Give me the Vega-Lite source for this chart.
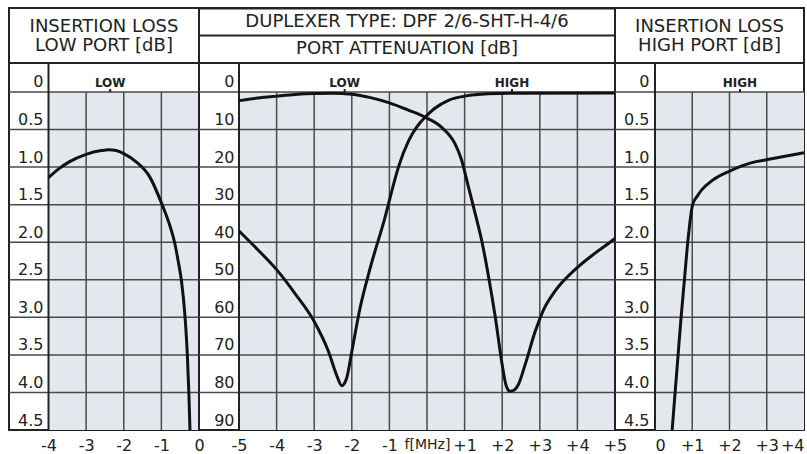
{
  "$schema": "https://vega.github.io/schema/vega-lite/v6.json",
  "padding": {"left": 7, "top": 7, "right": 5, "bottom": 0},
  "background": "white",
  "config": {
    "font": "DejaVu Sans",
    "view": {"stroke": "#222", "strokeWidth": 2},
    "axis": {"grid": false, "domain": false, "ticks": false, "labelColor": "#222", "labelFontSize": 16, "labelFont": "DejaVu Sans", "labelOverlap": false, "labelBound": false},
    "text": {"font": "DejaVu Sans", "color": "#222"}
  },
  "datasets": {
    "lowIL": [
      {"f": -4, "dB": 1.14}, {"f": -3.72, "dB": 1.02}, {"f": -3.45, "dB": 0.93}, {"f": -3.0, "dB": 0.83},
      {"f": -2.6, "dB": 0.78}, {"f": -2.4, "dB": 0.768}, {"f": -2.2, "dB": 0.78}, {"f": -2.0, "dB": 0.82}, {"f": -1.67, "dB": 0.93},
      {"f": -1.31, "dB": 1.13}, {"f": -0.98, "dB": 1.5}, {"f": -0.78, "dB": 1.77}, {"f": -0.65, "dB": 2.0},
      {"f": -0.55, "dB": 2.26}, {"f": -0.47, "dB": 2.5}, {"f": -0.37, "dB": 3.0}, {"f": -0.31, "dB": 3.5},
      {"f": -0.27, "dB": 4.0}, {"f": -0.24, "dB": 4.5}
    ],
    "highIL": [
      {"f": 0.46, "dB": 4.5}, {"f": 0.54, "dB": 4.0}, {"f": 0.62, "dB": 3.5}, {"f": 0.7, "dB": 3.0},
      {"f": 0.79, "dB": 2.5}, {"f": 0.88, "dB": 2.0}, {"f": 1.01, "dB": 1.5}, {"f": 1.13, "dB": 1.39},
      {"f": 1.26, "dB": 1.3}, {"f": 1.53, "dB": 1.18}, {"f": 2.02, "dB": 1.05}, {"f": 2.6, "dB": 0.94},
      {"f": 3.02, "dB": 0.9}, {"f": 4.0, "dB": 0.81}
    ],
    "att": [
      {"port": "low", "f": -5, "dB": 2.3}, {"port": "low", "f": -4.5, "dB": 1.6}, {"port": "low", "f": -4, "dB": 1.1},
      {"port": "low", "f": -3.5, "dB": 0.65}, {"port": "low", "f": -3, "dB": 0.4}, {"port": "low", "f": -2.5, "dB": 0.35},
      {"port": "low", "f": -2, "dB": 0.6}, {"port": "low", "f": -1.5, "dB": 1.5}, {"port": "low", "f": -1, "dB": 2.9},
      {"port": "low", "f": -0.5, "dB": 4.8}, {"port": "low", "f": -0.05, "dB": 6.7}, {"port": "low", "f": 0.39, "dB": 9.4},
      {"port": "low", "f": 0.74, "dB": 13.7}, {"port": "low", "f": 0.92, "dB": 18.1}, {"port": "low", "f": 1.1, "dB": 25.2},
      {"port": "low", "f": 1.28, "dB": 32.3}, {"port": "low", "f": 1.46, "dB": 39.8}, {"port": "low", "f": 1.64, "dB": 49.3},
      {"port": "low", "f": 1.82, "dB": 60.2}, {"port": "low", "f": 1.99, "dB": 72.0}, {"port": "low", "f": 2.1, "dB": 78.0},
      {"port": "low", "f": 2.21, "dB": 79.7}, {"port": "low", "f": 2.33, "dB": 79.3}, {"port": "low", "f": 2.43, "dB": 77.9},
      {"port": "low", "f": 2.61, "dB": 72.6}, {"port": "low", "f": 2.87, "dB": 64.0}, {"port": "low", "f": 3.1, "dB": 58.0},
      {"port": "low", "f": 3.4, "dB": 53.1}, {"port": "low", "f": 3.98, "dB": 46.9}, {"port": "low", "f": 4.47, "dB": 42.9},
      {"port": "low", "f": 4.87, "dB": 40.0}, {"port": "low", "f": 5.0, "dB": 39.0},
      {"port": "high", "f": -5, "dB": 37.0}, {"port": "high", "f": -4.5, "dB": 42.0},
      {"port": "high", "f": -4, "dB": 47.3}, {"port": "high", "f": -3.5, "dB": 53.8}, {"port": "high", "f": -3, "dB": 61.1},
      {"port": "high", "f": -2.62, "dB": 69.1}, {"port": "high", "f": -2.4, "dB": 75.5}, {"port": "high", "f": -2.27, "dB": 78.2},
      {"port": "high", "f": -2.14, "dB": 76.3}, {"port": "high", "f": -2.0, "dB": 69.1}, {"port": "high", "f": -1.78, "dB": 57.5},
      {"port": "high", "f": -1.56, "dB": 48.7}, {"port": "high", "f": -1.43, "dB": 44.0}, {"port": "high", "f": -1.12, "dB": 33.5},
      {"port": "high", "f": -0.94, "dB": 26.5}, {"port": "high", "f": -0.76, "dB": 20.0}, {"port": "high", "f": -0.49, "dB": 13.0},
      {"port": "high", "f": -0.27, "dB": 9.3}, {"port": "high", "f": -0.05, "dB": 6.7}, {"port": "high", "f": 0.2, "dB": 4.4},
      {"port": "high", "f": 0.57, "dB": 2.2}, {"port": "high", "f": 1.01, "dB": 1.1}, {"port": "high", "f": 1.63, "dB": 0.5},
      {"port": "high", "f": 2.25, "dB": 0.35}, {"port": "high", "f": 5.0, "dB": 0.3}
    ],
    "gridIL": [{"v": 0}, {"v": 0.5}, {"v": 1.0}, {"v": 1.5}, {"v": 2.0}, {"v": 2.5}, {"v": 3.0}, {"v": 3.5}, {"v": 4.0}],
    "gridAtt": [{"v": 0}, {"v": 10}, {"v": 20}, {"v": 30}, {"v": 40}, {"v": 50}, {"v": 60}, {"v": 70}, {"v": 80}],
    "vL": [{"f": -3}, {"f": -2}, {"f": -1}],
    "vM": [{"f": -4}, {"f": -3}, {"f": -2}, {"f": -1}, {"f": 0}, {"f": 1}, {"f": 2}, {"f": 3}, {"f": 4}],
    "vR": [{"f": 1}, {"f": 2}, {"f": 3}],
    "bandL": [{"f": -2.36, "band": "LOW"}],
    "bandM": [{"f": -2.19, "band": "LOW"}, {"f": 2.26, "band": "HIGH"}],
    "bandR": [{"f": 2.28, "band": "HIGH"}],
    "headL": [{"row": "1", "t": "INSERTION LOSS\nLOW PORT [dB]"}],
    "headM": [{"row": "1", "t": "DUPLEXER TYPE: DPF 2/6-SHT-H-4/6"}, {"row": "2", "t": "PORT ATTENUATION [dB]"}],
    "headR": [{"row": "1", "t": "INSERTION LOSS\nHIGH PORT [dB]"}]
  },
  "columns": 3,
  "spacing": 0,
  "bounds": "flush",
  "concat": [
    {
      "width": 190, "height": 55,
      "data": {"name": "headL"},
      "mark": {"type": "text", "fontSize": 18, "lineBreak": "\n", "lineHeight": 19, "baseline": "middle", "dy": -9},
      "encoding": {
        "y": {"field": "row", "type": "nominal", "scale": {"type": "band", "paddingInner": 0, "paddingOuter": 0}, "axis": null},
        "text": {"field": "t"}
      }
    },
    {
      "width": 416, "height": 55,
      "data": {"name": "headM"},
      "mark": {"type": "text", "fontSize": 18, "baseline": "middle"},
      "encoding": {
        "y": {"field": "row", "type": "nominal", "scale": {"type": "band", "paddingInner": 0, "paddingOuter": 0},
              "axis": {"grid": true, "bandPosition": 0, "labels": false, "ticks": false, "domain": false, "title": null, "gridColor": "#222", "gridWidth": 2}},
        "text": {"field": "t"}
      }
    },
    {
      "width": 189, "height": 55,
      "data": {"name": "headR"},
      "mark": {"type": "text", "fontSize": 18, "lineBreak": "\n", "lineHeight": 19, "baseline": "middle", "dy": -9},
      "encoding": {
        "y": {"field": "row", "type": "nominal", "scale": {"type": "band", "paddingInner": 0, "paddingOuter": 0}, "axis": null},
        "text": {"field": "t"}
      }
    },
    {
      "width": 190, "height": 367,
      "layer": [
        {
          "data": {"values": [{}]},
          "mark": {"type": "rect", "color": "#e4e8ee"},
          "encoding": {
            "x": {"datum": -4, "type": "quantitative", "scale": {"domain": [-5.05, 0], "nice": false, "zero": false}},
            "x2": {"datum": 0},
            "y": {"datum": 0, "type": "quantitative", "scale": {"domain": [-0.386, 4.5], "nice": false, "zero": false, "reverse": true}},
            "y2": {"datum": 4.5}
          }
        },
        {
          "data": {"name": "gridIL"},
          "mark": {"type": "rule", "color": "#4a4a4a", "strokeWidth": 1.5},
          "encoding": {"y": {"field": "v", "type": "quantitative", "scale": {"domain": [-0.386, 4.5], "nice": false, "zero": false, "reverse": true}}}
        },
        {
          "data": {"name": "vL"},
          "mark": {"type": "rule", "color": "#4a4a4a", "strokeWidth": 1.5},
          "encoding": {
            "x": {"field": "f", "type": "quantitative", "scale": {"domain": [-5.05, 0], "nice": false, "zero": false}},
            "y": {"datum": 0, "type": "quantitative", "scale": {"domain": [-0.386, 4.5], "nice": false, "zero": false, "reverse": true}},
            "y2": {"datum": 4.5}
          }
        },
        {
          "data": {"values": [{}]},
          "mark": {"type": "rule", "color": "#222", "strokeWidth": 2},
          "encoding": {"x": {"datum": -4, "type": "quantitative", "scale": {"domain": [-5.05, 0], "nice": false, "zero": false}}}
        },
        {
          "data": {"name": "bandL"},
          "mark": {"type": "text", "fontSize": 12, "fontWeight": "bold", "baseline": "alphabetic", "dy": -5},
          "encoding": {
            "x": {"field": "f", "type": "quantitative", "scale": {"domain": [-5.05, 0], "nice": false, "zero": false}},
            "y": {"datum": 0, "type": "quantitative", "scale": {"domain": [-0.386, 4.5], "nice": false, "zero": false, "reverse": true}},
            "text": {"field": "band"}
          }
        },
        {
          "data": {"name": "bandL"},
          "mark": {"type": "rule", "color": "#222", "strokeWidth": 2},
          "encoding": {
            "x": {"field": "f", "type": "quantitative", "scale": {"domain": [-5.05, 0], "nice": false, "zero": false}},
            "y": {"datum": 0, "type": "quantitative", "scale": {"domain": [-0.386, 4.5], "nice": false, "zero": false, "reverse": true}},
            "y2": {"datum": -0.04}
          }
        },
        {
          "data": {"name": "lowIL"},
          "mark": {"type": "line", "color": "#111", "strokeWidth": 3, "interpolate": "monotone"},
          "encoding": {
            "x": {"field": "f", "type": "quantitative", "scale": {"domain": [-5.05, 0], "nice": false, "zero": false},
                  "axis": {"orient": "bottom", "values": [-4, -3, -2, -1, 0], "labelFlush": false, "labelPadding": 7, "title": null, "grid": false,
                           "labelExpr": "datum.value == 0 ? '0' : (datum.value > 0 ? '+' : '-') + abs(datum.value)"}},
            "y": {"field": "dB", "type": "quantitative", "scale": {"domain": [-0.386, 4.5], "nice": false, "zero": false, "reverse": true},
                  "axis": {"orient": "left", "values": [0, 0.5, 1, 1.5, 2, 2.5, 3, 3.5, 4, 4.5], "labelAlign": "right", "labelBaseline": "alphabetic",
                           "labelOffset": -5, "labelPadding": -34, "title": null, "grid": false,
                           "labelExpr": "datum.value == 0 ? '0' : format(datum.value, '.1f')"}}
          }
        }
      ]
    },
    {
      "width": 416, "height": 367,
      "layer": [
        {
          "data": {"values": [{}]},
          "mark": {"type": "rect", "color": "#e4e8ee"},
          "encoding": {
            "x": {"datum": -5, "type": "quantitative", "scale": {"domain": [-6.064, 5], "nice": false, "zero": false}},
            "x2": {"datum": 5},
            "y": {"datum": 0, "type": "quantitative", "scale": {"domain": [-7.72, 90], "nice": false, "zero": false, "reverse": true}},
            "y2": {"datum": 90}
          }
        },
        {
          "data": {"name": "gridAtt"},
          "mark": {"type": "rule", "color": "#4a4a4a", "strokeWidth": 1.5},
          "encoding": {"y": {"field": "v", "type": "quantitative", "scale": {"domain": [-7.72, 90], "nice": false, "zero": false, "reverse": true}}}
        },
        {
          "data": {"name": "vM"},
          "mark": {"type": "rule", "color": "#4a4a4a", "strokeWidth": 1.5},
          "encoding": {
            "x": {"field": "f", "type": "quantitative", "scale": {"domain": [-6.064, 5], "nice": false, "zero": false}},
            "y": {"datum": 0, "type": "quantitative", "scale": {"domain": [-7.72, 90], "nice": false, "zero": false, "reverse": true}},
            "y2": {"datum": 90}
          }
        },
        {
          "data": {"values": [{}]},
          "mark": {"type": "rule", "color": "#222", "strokeWidth": 2},
          "encoding": {"x": {"datum": -5, "type": "quantitative", "scale": {"domain": [-6.064, 5], "nice": false, "zero": false}}}
        },
        {
          "data": {"name": "bandM"},
          "mark": {"type": "text", "fontSize": 12, "fontWeight": "bold", "baseline": "alphabetic", "dy": -5},
          "encoding": {
            "x": {"field": "f", "type": "quantitative", "scale": {"domain": [-6.064, 5], "nice": false, "zero": false}},
            "y": {"datum": 0, "type": "quantitative", "scale": {"domain": [-7.72, 90], "nice": false, "zero": false, "reverse": true}},
            "text": {"field": "band"}
          }
        },
        {
          "data": {"name": "bandM"},
          "mark": {"type": "rule", "color": "#222", "strokeWidth": 2},
          "encoding": {
            "x": {"field": "f", "type": "quantitative", "scale": {"domain": [-6.064, 5], "nice": false, "zero": false}},
            "y": {"datum": 0, "type": "quantitative", "scale": {"domain": [-7.72, 90], "nice": false, "zero": false, "reverse": true}},
            "y2": {"datum": -0.8}
          }
        },
        {
          "data": {"name": "att"},
          "mark": {"type": "line", "color": "#111", "strokeWidth": 3, "interpolate": "monotone"},
          "encoding": {
            "detail": {"field": "port"},
            "x": {"field": "f", "type": "quantitative", "scale": {"domain": [-6.064, 5], "nice": false, "zero": false},
                  "axis": {"orient": "bottom", "values": [-5, -4, -3, -2, -1, 0, 1, 2, 3, 4, 5], "labelFlush": false, "labelPadding": 7, "title": null, "grid": false,
                           "labelFontSize": {"condition": {"test": "datum.value == 0", "value": 14}, "value": 16},
                           "labelExpr": "datum.value == 0 ? 'f[MHz]' : (datum.value > 0 ? '+' : '-') + abs(datum.value)"}},
            "y": {"field": "dB", "type": "quantitative", "scale": {"domain": [-7.72, 90], "nice": false, "zero": false, "reverse": true},
                  "axis": {"orient": "left", "values": [0, 10, 20, 30, 40, 50, 60, 70, 80, 90], "labelAlign": "right", "labelBaseline": "alphabetic",
                           "labelOffset": -5, "labelPadding": -35, "title": null, "grid": false}}
          }
        }
      ]
    },
    {
      "width": 189, "height": 367,
      "layer": [
        {
          "data": {"values": [{}]},
          "mark": {"type": "rect", "color": "#e4e8ee"},
          "encoding": {
            "x": {"datum": 0, "type": "quantitative", "scale": {"domain": [-1.074, 4], "nice": false, "zero": false}},
            "x2": {"datum": 4},
            "y": {"datum": 0, "type": "quantitative", "scale": {"domain": [-0.386, 4.5], "nice": false, "zero": false, "reverse": true}},
            "y2": {"datum": 4.5}
          }
        },
        {
          "data": {"name": "gridIL"},
          "mark": {"type": "rule", "color": "#4a4a4a", "strokeWidth": 1.5},
          "encoding": {"y": {"field": "v", "type": "quantitative", "scale": {"domain": [-0.386, 4.5], "nice": false, "zero": false, "reverse": true}}}
        },
        {
          "data": {"name": "vR"},
          "mark": {"type": "rule", "color": "#4a4a4a", "strokeWidth": 1.5},
          "encoding": {
            "x": {"field": "f", "type": "quantitative", "scale": {"domain": [-1.074, 4], "nice": false, "zero": false}},
            "y": {"datum": 0, "type": "quantitative", "scale": {"domain": [-0.386, 4.5], "nice": false, "zero": false, "reverse": true}},
            "y2": {"datum": 4.5}
          }
        },
        {
          "data": {"values": [{}]},
          "mark": {"type": "rule", "color": "#222", "strokeWidth": 2},
          "encoding": {"x": {"datum": 0, "type": "quantitative", "scale": {"domain": [-1.074, 4], "nice": false, "zero": false}}}
        },
        {
          "data": {"name": "bandR"},
          "mark": {"type": "text", "fontSize": 12, "fontWeight": "bold", "baseline": "alphabetic", "dy": -5},
          "encoding": {
            "x": {"field": "f", "type": "quantitative", "scale": {"domain": [-1.074, 4], "nice": false, "zero": false}},
            "y": {"datum": 0, "type": "quantitative", "scale": {"domain": [-0.386, 4.5], "nice": false, "zero": false, "reverse": true}},
            "text": {"field": "band"}
          }
        },
        {
          "data": {"name": "bandR"},
          "mark": {"type": "rule", "color": "#222", "strokeWidth": 2},
          "encoding": {
            "x": {"field": "f", "type": "quantitative", "scale": {"domain": [-1.074, 4], "nice": false, "zero": false}},
            "y": {"datum": 0, "type": "quantitative", "scale": {"domain": [-0.386, 4.5], "nice": false, "zero": false, "reverse": true}},
            "y2": {"datum": -0.04}
          }
        },
        {
          "data": {"name": "highIL"},
          "mark": {"type": "line", "color": "#111", "strokeWidth": 3, "interpolate": "monotone"},
          "encoding": {
            "x": {"field": "f", "type": "quantitative", "scale": {"domain": [-1.074, 4], "nice": false, "zero": false},
                  "axis": {"orient": "bottom", "values": [0, 1, 2, 3, 4], "labelFlush": false, "labelPadding": 7, "title": null, "grid": false,
                           "labelAlign": {"condition": [{"test": "datum.value == 0", "value": "left"}, {"test": "datum.value == 4", "value": "right"}], "value": "center"},
                           "labelExpr": "datum.value == 0 ? '0' : (datum.value > 0 ? '+' : '-') + abs(datum.value)"}},
            "y": {"field": "dB", "type": "quantitative", "scale": {"domain": [-0.386, 4.5], "nice": false, "zero": false, "reverse": true},
                  "axis": {"orient": "left", "values": [0, 0.5, 1, 1.5, 2, 2.5, 3, 3.5, 4, 4.5], "labelAlign": "right", "labelBaseline": "alphabetic",
                           "labelOffset": -5, "labelPadding": -34, "title": null, "grid": false,
                           "labelExpr": "datum.value == 0 ? '0' : format(datum.value, '.1f')"}}
          }
        }
      ]
    }
  ]
}
